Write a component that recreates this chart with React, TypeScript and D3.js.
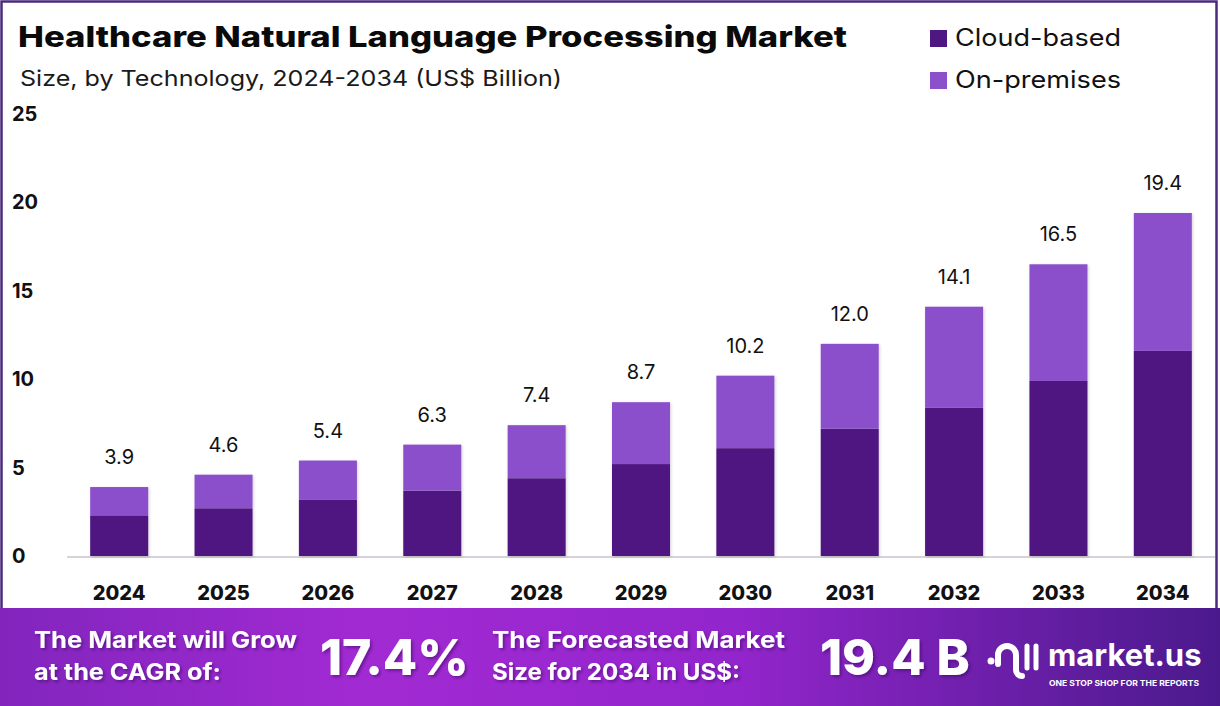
import * as d3 from "d3";
import { useRef, useEffect } from "react";

const years = ["2024", "2025", "2026", "2027", "2028", "2029", "2030", "2031", "2032", "2033", "2034"];
const cloudBased = [2.3, 2.7, 3.2, 3.7, 4.4, 5.2, 6.1, 7.2, 8.4, 9.9, 11.6];
const onPremises = [1.6, 1.9, 2.2, 2.6, 3.0, 3.5, 4.1, 4.8, 5.7, 6.6, 7.8];
const totals = [3.9, 4.6, 5.4, 6.3, 7.4, 8.7, 10.2, 12.0, 14.1, 16.5, 19.4];
const yTicks = [0, 5, 10, 15, 20, 25];
const seriesNames = ["Cloud-based", "On-premises"];
const seriesColors = ["#4f1782", "#8c50cb"];

const FONT = "Inter, 'Noto Sans', sans-serif";

export default function App() {
  const svgRef = useRef<SVGSVGElement | null>(null);

  useEffect(() => {
    const W = 1220;
    const H = 706;
    const svg = d3.select(svgRef.current);
    svg.selectAll("*").remove();
    svg.attr("viewBox", `0 0 ${W} ${H}`);

    const defs = svg.append("defs");
    const grad = defs.append("linearGradient").attr("id", "banner").attr("x1", 0).attr("x2", 1).attr("y1", 0).attr("y2", 0);
    [
      [0, "#8225bd"],
      [0.3, "#a22ad3"],
      [0.6, "#9325cc"],
      [1, "#4a1a8c"],
    ].forEach(([o, c]) => grad.append("stop").attr("offset", o as number).attr("stop-color", c as string));

    const shadow = defs.append("filter").attr("id", "barShadow").attr("x", "-20%").attr("y", "-10%").attr("width", "140%").attr("height", "120%");
    shadow.append("feDropShadow").attr("dx", 1).attr("dy", 1).attr("stdDeviation", 1.5).attr("flood-color", "#000").attr("flood-opacity", 0.18);

    const txtShadow = defs.append("filter").attr("id", "txtShadow");
    txtShadow.append("feDropShadow").attr("dx", 2).attr("dy", 2).attr("stdDeviation", 1.5).attr("flood-color", "#2a0a50").attr("flood-opacity", 0.45);

    // fit a text to the width it has in the original
    const fit = (sel: any, len: number) => sel.attr("textLength", len).attr("lengthAdjust", "spacingAndGlyphs");

    // background + frame
    svg.append("rect").attr("width", W).attr("height", H).attr("fill", "#fff");
    svg.append("rect").attr("x", 1.5).attr("y", 1.5).attr("width", 1215).attr("height", 610)
      .attr("fill", "#fff").attr("stroke", "#4b2a7c").attr("stroke-width", 2.5);

    // titles
    fit(svg.append("text").attr("x", 18).attr("y", 47).attr("font-family", FONT).attr("font-weight", 800)
      .attr("font-size", 29).attr("fill", "#0a0a0a").text("Healthcare Natural Language Processing Market"), 829);
    fit(svg.append("text").attr("x", 20).attr("y", 86).attr("font-family", FONT).attr("font-weight", 400)
      .attr("font-size", 22).attr("fill", "#1a1a1a").text("Size, by Technology, 2024-2034 (US$ Billion)"), 542);

    // legend
    const legend = svg.append("g").attr("transform", "translate(930,30)");
    seriesNames.forEach((name, i) => {
      const row = legend.append("g").attr("transform", `translate(0,${i * 42})`);
      row.append("rect").attr("width", 17).attr("height", 17).attr("fill", seriesColors[i]);
      fit(row.append("text").attr("x", 25).attr("y", 16).attr("font-family", FONT).attr("font-size", 24)
        .attr("fill", "#111").text(name), 166);
    });

    const x = d3.scaleBand<string>().domain(years).range([67, 1215]).paddingInner(0.444).paddingOuter(0.222);
    const y = d3.scaleLinear().domain([0, 25]).range([556, 114]);

    // y ticks
    svg.append("g").selectAll("text").data(yTicks).join("text")
      .attr("x", 12).attr("y", d => y(d)).attr("dominant-baseline", "central")
      .attr("font-family", FONT).attr("font-weight", 700).attr("font-size", 20).attr("fill", "#111")
      .text(d => d);

    // baseline
    svg.append("line").attr("x1", 67).attr("x2", 1215).attr("y1", y(0) + 1).attr("y2", y(0) + 1)
      .attr("stroke", "#d6d3da").attr("stroke-width", 2);

    const rows = years.map((yr, i) => ({ yr, "Cloud-based": cloudBased[i], "On-premises": onPremises[i] }));
    const stacked = d3.stack<any>().keys(seriesNames)(rows);

    const bars = svg.append("g").attr("filter", "url(#barShadow)");
    stacked.forEach((layer, si) => {
      bars.append("g").attr("fill", seriesColors[si]).selectAll("rect").data(layer).join("rect")
        .attr("x", d => x(d.data.yr)!)
        .attr("width", x.bandwidth())
        .attr("y", d => y(d[1]))
        .attr("height", d => y(d[0]) - y(d[1]));
    });

    // totals
    svg.append("g").selectAll("text").data(years).join("text")
      .attr("x", d => x(d)! + x.bandwidth() / 2)
      .attr("y", (_, i) => y(cloudBased[i] + onPremises[i]) - 23)
      .attr("text-anchor", "middle").attr("font-family", FONT).attr("font-size", 20).attr("fill", "#111")
      .text((_, i) => totals[i].toFixed(1));

    // x labels
    svg.append("g").selectAll("text").data(years).join("text")
      .attr("x", d => x(d)! + x.bandwidth() / 2).attr("y", 600)
      .attr("text-anchor", "middle").attr("font-family", FONT).attr("font-weight", 800).attr("font-size", 20)
      .attr("fill", "#111").text(d => d);

    // banner
    svg.append("rect").attr("x", 0).attr("y", 608).attr("width", W).attr("height", H - 608).attr("fill", "url(#banner)");
    const b = svg.append("g").attr("fill", "#fff").attr("font-family", FONT).attr("filter", "url(#txtShadow)");
    fit(b.append("text").attr("x", 34).attr("y", 648).attr("font-weight", 700).attr("font-size", 23).text("The Market will Grow"), 263);
    fit(b.append("text").attr("x", 34).attr("y", 680).attr("font-weight", 700).attr("font-size", 23).text("at the CAGR of:"), 187);
    b.append("text").attr("x", 320).attr("y", 675).attr("font-weight", 800).attr("font-size", 50).text("17.4%");
    fit(b.append("text").attr("x", 492).attr("y", 648).attr("font-weight", 700).attr("font-size", 23).text("The Forecasted Market"), 293);
    fit(b.append("text").attr("x", 492).attr("y", 680).attr("font-weight", 700).attr("font-size", 23).text("Size for 2034 in US$:"), 248);
    b.append("text").attr("x", 820).attr("y", 675).attr("font-weight", 800).attr("font-size", 50).text("19.4 B");

    // logo
    const logo = svg.append("g").attr("fill", "none").attr("stroke", "#fff").attr("stroke-linecap", "round");
    logo.append("circle").attr("cx", 991).attr("cy", 661).attr("r", 3.5).attr("fill", "#fff").attr("stroke", "none");
    logo.append("path").attr("d", "M998,664 L998,655 A9,9 0 0 1 1016,655 L1016,670 A6,6 0 0 0 1022,676").attr("stroke-width", 6);
    logo.append("line").attr("x1", 1027).attr("x2", 1027).attr("y1", 646).attr("y2", 668).attr("stroke-width", 5);
    logo.append("line").attr("x1", 1036).attr("x2", 1036).attr("y1", 646).attr("y2", 668).attr("stroke-width", 5);
    svg.append("text").attr("x", 1048).attr("y", 666).attr("font-family", FONT).attr("font-weight", 700)
      .attr("font-size", 31).attr("fill", "#fff").text("market.us");
    fit(svg.append("text").attr("x", 1049).attr("y", 686).attr("font-family", FONT).attr("font-weight", 700)
      .attr("font-size", 7.5).attr("fill", "#fff").text("ONE STOP SHOP FOR THE REPORTS"), 150);
  }, []);

  return (
    <svg
      ref={svgRef}
      width={1220}
      height={706}
      style={{ display: "block", position: "absolute", left: 0, top: 0 }}
    />
  );
}
